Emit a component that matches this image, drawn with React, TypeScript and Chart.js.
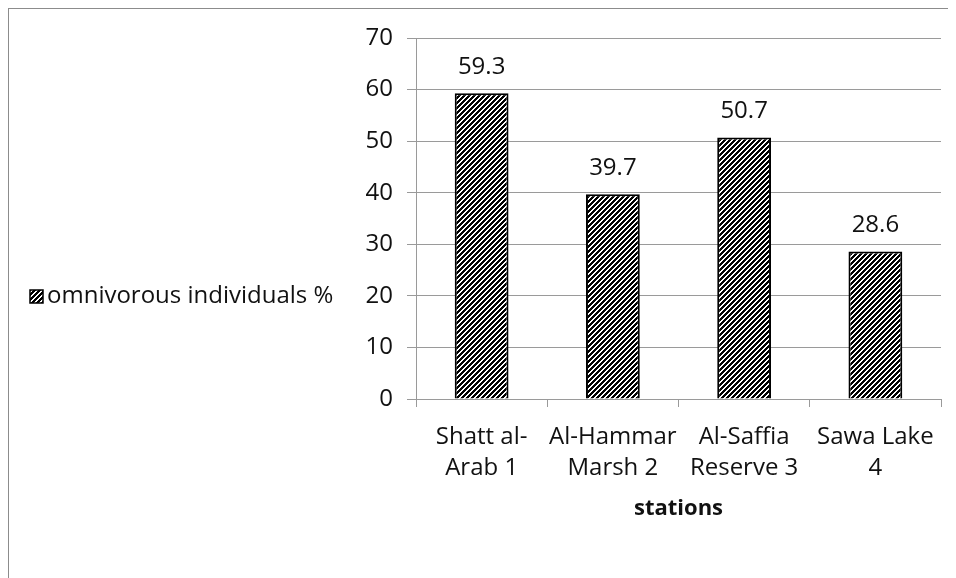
import React, { useEffect, useRef } from "react";
import { Chart, registerables } from "chart.js";

Chart.register(...registerables);

const stations: string[][] = [
  ["Shatt al-", "Arab 1"],
  ["Al-Hammar", "Marsh 2"],
  ["Al-Saffia", "Reserve 3"],
  ["Sawa Lake", "4"],
];
const omnivorousPct: number[] = [59.3, 39.7, 50.7, 28.6];
const seriesLabel = "omnivorous individuals %";
const axisTitle = "stations";
const yTicks: number[] = [0, 10, 20, 30, 40, 50, 60, 70];

const FONT = "'Open Sans', sans-serif";
const TEXT = "#111";
const GRID = "#9a9a9a";

// Upward diagonal hatch, crisp pixel tile
function makeHatch(ctx: CanvasRenderingContext2D): CanvasPattern | string {
  const tile = document.createElement("canvas");
  const n = 5;
  tile.width = n;
  tile.height = n;
  const t = tile.getContext("2d");
  if (!t) return "#000";
  const img = t.createImageData(n, n);
  for (let y = 0; y < n; y++) {
    for (let x = 0; x < n; x++) {
      const dark = (x + y) % n < 3;
      const i = (y * n + x) * 4;
      const v = dark ? 0 : 255;
      img.data[i] = v;
      img.data[i + 1] = v;
      img.data[i + 2] = v;
      img.data[i + 3] = 255;
    }
  }
  t.putImageData(img, 0, 0);
  return ctx.createPattern(tile, "repeat") || "#000";
}

export default function App() {
  const ref = useRef<HTMLCanvasElement | null>(null);

  useEffect(() => {
    const canvas = ref.current;
    if (!canvas) return;
    const ctx = canvas.getContext("2d");
    if (!ctx) return;
    const hatch = makeHatch(ctx);

    const valueLabels = {
      id: "valueLabels",
      afterDatasetsDraw(chart: any) {
        const c = chart.ctx;
        const meta = chart.getDatasetMeta(0);
        const data = chart.data.datasets[0].data as number[];
        c.save();
        c.font = `24px ${FONT}`;
        c.fillStyle = TEXT;
        c.textAlign = "center";
        c.textBaseline = "middle";
        meta.data.forEach((bar: any, i: number) => {
          c.fillText(data[i].toFixed(1), bar.x, bar.y - 26);
        });
        c.restore();
      },
    };

    const sideLegend = {
      id: "sideLegend",
      afterDraw(chart: any) {
        const c = chart.ctx;
        const ds = chart.data.datasets[0];
        const cy = (chart.chartArea.top + chart.chartArea.bottom) / 2 + 78;
        const bx = 21;
        const size = 13;
        c.save();
        c.fillStyle = hatch;
        c.fillRect(bx, cy - size / 2, size, size);
        c.strokeStyle = "#000";
        c.lineWidth = 1.5;
        c.strokeRect(bx, cy - size / 2, size, size);
        c.font = `24px ${FONT}`;
        c.fillStyle = TEXT;
        c.textAlign = "left";
        c.textBaseline = "middle";
        c.fillText(ds.label, bx + size + 4, cy);
        c.restore();
      },
    };

    const chart = new Chart(canvas, {
      type: "bar",
      data: {
        labels: stations,
        datasets: [
          {
            label: seriesLabel,
            data: omnivorousPct,
            backgroundColor: hatch as any,
            borderColor: "#000",
            borderWidth: 2,
            categoryPercentage: 1,
            barPercentage: 0.41,
          },
        ],
      },
      options: {
        responsive: false,
        animation: false,
        layout: { padding: { left: 0, right: 15, top: 29, bottom: 53 } },
        plugins: {
          legend: { display: false },
          tooltip: { enabled: false },
        },
        scales: {
          x: {
            grid: {
              offset: true,
              drawOnChartArea: false,
              drawTicks: true,
              tickLength: 8,
              color: GRID,
            },
            border: { color: GRID, width: 1 },
            ticks: {
              color: TEXT,
              padding: 14,
              font: { family: FONT, size: 24, lineHeight: 1.31 },
              maxRotation: 0,
              autoSkip: false,
            },
            title: {
              display: true,
              text: axisTitle,
              color: TEXT,
              font: { family: FONT, size: 22, weight: "bold" },
              padding: { top: 0, bottom: 3 },
            },
            afterFit(scale: any) {
              scale.height = 126;
            },
          },
          y: {
            min: 0,
            max: 70,
            afterBuildTicks(scale: any) {
              scale.ticks = yTicks.map((v) => ({ value: v }));
            },
            grid: {
              color: GRID,
              tickLength: 9,
              drawTicks: true,
            },
            border: { color: GRID, width: 1 },
            ticks: {
              color: TEXT,
              padding: 14,
              font: { family: FONT, size: 24 },
            },
            afterFit(scale: any) {
              scale.width = 407;
            },
          },
        },
      },
      plugins: [valueLabels, sideLegend],
    });

    return () => chart.destroy();
  }, []);

  return (
    <div
      style={{
        width: 948,
        height: 570,
        boxSizing: "border-box",
        borderLeft: "1px solid #8c8c8c",
        borderTop: "1px solid #8c8c8c",
        background: "#fff",
      }}
    >
      <canvas ref={ref} width={947} height={569} style={{ display: "block" }} />
    </div>
  );
}
